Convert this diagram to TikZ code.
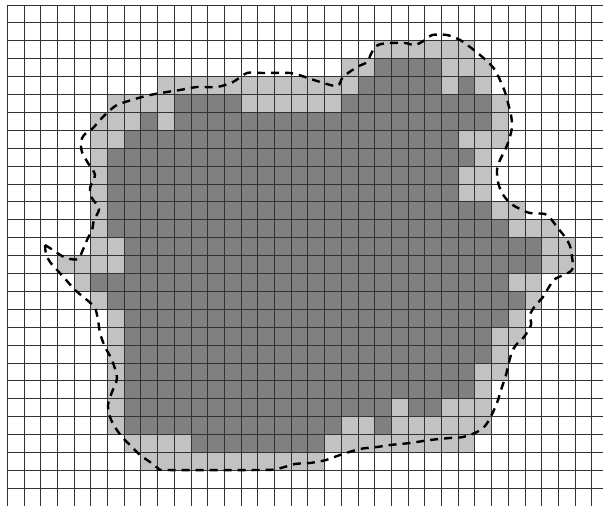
\documentclass[tikz,border=0pt]{standalone}
\definecolor{darkcell}{gray}{0.5}
\definecolor{lightcell}{gray}{0.76}
\tikzset{
  gridline/.style={draw=black!80, line width=0.9pt},
  outline/.style={draw=black, line width=2.4pt, dash pattern=on 8pt off 6pt},
}
\newcommand{\cellrun}[4]{\fill[#1] ({7.3+16.7*#3},{5+17.9*#2}) rectangle ({7.3+16.7*(#4+1)},{5+17.9*(#2+1)});}
\begin{document}
\begin{tikzpicture}[x=1pt,y=-1pt]
\useasboundingbox (0,0) rectangle (603,506);
\fill[white] (0,0) rectangle (603,506);
% dark (fully inside) cells
\foreach \r/\a/\b in {3/22/25, 4/21/25, 4/27/27, 5/10/13, 5/20/28, 6/8/8, 6/10/28,
  7/7/26, 8/6/27, 9/6/26, 10/6/26, 11/6/28, 12/6/29, 13/7/31, 14/7/31, 15/5/29,
  16/6/30, 17/7/29, 18/7/28, 19/7/28, 20/7/27, 21/7/27, 22/7/22, 22/24/25,
  23/7/19, 23/22/22, 24/11/18}
  {\cellrun{darkcell}{\r}{\a}{\b}}
% light (boundary) cells
\foreach \r/\a/\b in {2/22/27, 3/20/21, 3/26/28, 4/9/20, 4/26/26, 4/28/28,
  5/6/9, 5/14/19, 5/29/29, 6/5/7, 6/9/9, 6/29/29, 7/5/6, 7/27/29, 8/5/5, 8/28/28,
  9/5/5, 9/27/28, 10/5/5, 10/27/28, 11/5/5, 11/29/30, 12/5/5, 12/30/32,
  13/5/6, 13/32/33, 14/3/6, 14/32/33, 15/4/4, 15/30/31, 16/5/5, 16/31/31,
  17/6/6, 17/30/30, 18/6/6, 18/29/30, 19/6/6, 19/29/29, 20/6/6, 20/28/29,
  21/6/6, 21/28/28, 22/6/6, 22/23/23, 22/26/28, 23/6/6, 23/20/21, 23/23/28,
  24/7/10, 24/19/27, 25/8/18}
  {\cellrun{lightcell}{\r}{\a}{\b}}
% grid
\begin{scope}
\clip (0,0) rectangle (603,506);
\foreach \i in {0,...,35} \draw[gridline] ({7.3+16.7*\i},5) -- ({7.3+16.7*\i},507);
\foreach \j in {0,...,28} \draw[gridline] (7.3,{5+17.9*\j}) -- (604,{5+17.9*\j});
\end{scope}
% dashed outline
\draw[outline] plot[smooth, tension=0.5] coordinates {
  (45,245) (53,250) (62,256) (70,259) (78,259) (82,252) (87,240) (92,230)
  (94,220) (99,209) (92,198) (90,188) (95,175) (88,163) (82,152) (81,142)
  (84,135) (93,128) (100,120) (107,113) (117,105) (135,99) (150,95) (167,92)
  (180,90) (197,87) (217,87) (233,82) (247,73) (263,73) (290,73) (302,76)
  (317,81) (337,86) (343,77) (357,67) (367,62) (372,52) (378,45) (390,43)
  (405,43) (415,45) (425,40) (432,35) (447,35) (460,40) (470,47) (480,55)
  (488,62) (495,70) (500,80) (505,92) (508,103) (511,115) (512,127) (509,140)
  (505,150) (500,160) (497,170) (498,182) (502,193) (510,203) (520,209)
  (530,213) (545,214) (551,219) (557,227) (565,237) (570,246) (572,257)
  (573,268) (568,273) (555,279) (549,287) (543,297) (535,306) (530,315)
  (531,325) (524,337) (516,345) (512,352) (509,362) (506,375) (502,387)
  (498,400) (494,410) (490,418) (485,426) (477,432) (463,437) (450,438)
  (430,440) (410,443) (390,445) (377,447) (360,449) (340,455) (326,460)
  (310,463) (295,464) (277,469) (260,470) (167,470) (158,468) (150,462)
  (140,455) (130,445) (122,437) (115,427) (110,417) (108,405) (112,392)
  (117,378) (112,360) (105,347) (100,333) (98,320) (95,308) (87,300)
  (75,290) (67,281) (58,271) (50,262) (46,254) (45,245)};
\end{tikzpicture}
\end{document}
